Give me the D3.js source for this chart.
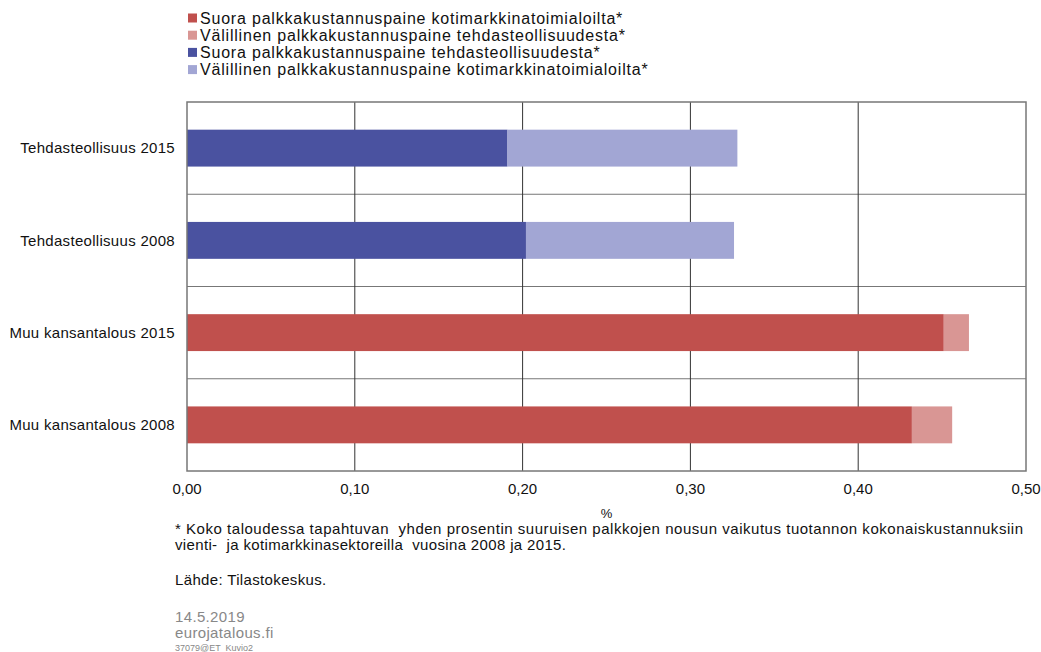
<!DOCTYPE html>
<html>
<head>
<meta charset="utf-8">
<script src="https://cdn.jsdelivr.net/npm/d3@7"></script>
<style>
  body { margin: 0; background: #fff; }
  svg { display: block; font-family: "Liberation Sans", Arial, sans-serif; }
</style>
</head>
<body>
<script>
// chart data
const categories = [
  "Tehdasteollisuus 2015",
  "Tehdasteollisuus 2008",
  "Muu kansantalous 2015",
  "Muu kansantalous 2008",
];
const seriesNames = [
  "Suora palkkakustannuspaine kotimarkkinatoimialoilta*",
  "Välillinen palkkakustannuspaine tehdasteollisuudesta*",
  "Suora palkkakustannuspaine tehdasteollisuudesta*",
  "Välillinen palkkakustannuspaine kotimarkkinatoimialoilta*",
];
// one array per series, aligned with categories
const suoraKoti = [0, 0, 0.451, 0.432];
const valillinenTehdas = [0, 0, 0.015, 0.024];
const suoraTehdas = [0.191, 0.202, 0, 0];
const valillinenKoti = [0.137, 0.124, 0, 0];
const xTicks = [0, 0.1, 0.2, 0.3, 0.4, 0.5];

const colors = ["#c0504d", "#d99694", "#4a52a0", "#a2a6d4"];

const width = 1041;
const height = 652;
const margin = { top: 102, right: 15, bottom: 181, left: 187 };

const svg = d3
  .select("body")
  .append("svg")
  .attr("width", width)
  .attr("height", height);

const x = d3
  .scaleLinear()
  .domain([0, 0.5])
  .range([margin.left, width - margin.right]);

const y = d3
  .scaleBand()
  .domain(categories)
  .range([margin.top, height - margin.bottom])
  .paddingInner(0)
  .paddingOuter(0);

const rows = categories.map((c, i) => ({
  cat: c,
  s0: suoraKoti[i],
  s1: valillinenTehdas[i],
  s2: suoraTehdas[i],
  s3: valillinenKoti[i],
}));
// order matters: dark segment first, light one after it
const stack = d3.stack().keys(["s2", "s3", "s0", "s1"]);
const stacked = stack(rows);
const keyColor = { s0: colors[0], s1: colors[1], s2: colors[2], s3: colors[3] };

// horizontal band separators
svg
  .append("g")
  .selectAll("line")
  .data(categories.slice(1))
  .join("line")
  .attr("x1", x(0))
  .attr("x2", x(0.5))
  .attr("y1", (d) => y(d))
  .attr("y2", (d) => y(d))
  .attr("stroke", "#777")
  .attr("stroke-width", 1);

// vertical gridlines
svg
  .append("g")
  .selectAll("line")
  .data(xTicks.slice(1, -1))
  .join("line")
  .attr("x1", (d) => x(d))
  .attr("x2", (d) => x(d))
  .attr("y1", y.range()[0])
  .attr("y2", y.range()[1])
  .attr("stroke", "#333")
  .attr("stroke-width", 1);

// bars
const barH = y.bandwidth() * 0.4;
svg
  .append("g")
  .selectAll("g")
  .data(stacked)
  .join("g")
  .attr("fill", (d) => keyColor[d.key])
  .selectAll("rect")
  .data((d) => d.filter((p) => p[1] - p[0] > 0))
  .join("rect")
  .attr("x", (d) => x(d[0]))
  .attr("width", (d) => x(d[1]) - x(d[0]))
  .attr("y", (d) => y(d.data.cat) + (y.bandwidth() - barH) / 2)
  .attr("height", barH);

// plot frame
svg
  .append("rect")
  .attr("x", x(0))
  .attr("y", y.range()[0])
  .attr("width", x(0.5) - x(0))
  .attr("height", y.range()[1] - y.range()[0])
  .attr("fill", "none")
  .attr("stroke", "#777")
  .attr("stroke-width", 1.5);

// category labels
svg
  .append("g")
  .selectAll("text")
  .data(categories)
  .join("text")
  .attr("x", 175)
  .attr("y", (d) => y(d) + y.bandwidth() / 2)
  .attr("dy", "0.35em")
  .attr("text-anchor", "end")
  .attr("font-size", "15px")
  .attr("letter-spacing", "0.3px")
  .attr("fill", "#111")
  .text((d) => d);

// x tick labels
const fmt = (v) => d3.format(".2f")(v).replace(".", ",");
svg
  .append("g")
  .selectAll("text")
  .data(xTicks)
  .join("text")
  .attr("x", (d) => x(d))
  .attr("y", 494)
  .attr("text-anchor", "middle")
  .attr("font-size", "15px")
  .attr("fill", "#111")
  .text((d) => fmt(d));

svg
  .append("text")
  .attr("x", x(0.25))
  .attr("y", 518)
  .attr("text-anchor", "middle")
  .attr("font-size", "13px")
  .attr("fill", "#111")
  .text("%");

// legend
const legend = svg
  .append("g")
  .selectAll("g")
  .data(seriesNames)
  .join("g")
  .attr("transform", (d, i) => `translate(188, ${18 + i * 17.2})`);

legend
  .append("rect")
  .attr("x", 0)
  .attr("y", -4.5)
  .attr("width", 9)
  .attr("height", 9)
  .attr("fill", (d, i) => colors[i]);

legend
  .append("text")
  .attr("x", 12)
  .attr("y", 5.5)
  .attr("font-size", "16px")
  .attr("letter-spacing", "0.8px")
  .attr("fill", "#111")
  .text((d) => d);

// footnotes
const notes = [
  { t: "* Koko taloudessa tapahtuvan  yhden prosentin suuruisen palkkojen nousun vaikutus tuotannon kokonaiskustannuksiin", y: 534, c: "#111", s: 15, fit: true },
  { t: "vienti-  ja kotimarkkinasektoreilla  vuosina 2008 ja 2015.", y: 550, c: "#111", s: 15 },
  { t: "Lähde: Tilastokeskus.", y: 585, c: "#111", s: 15 },
  { t: "14.5.2019", y: 622, c: "#888", s: 15 },
  { t: "eurojatalous.fi", y: 638, c: "#888", s: 15 },
  { t: "37079@ET  Kuvio2", y: 651, c: "#888", s: 9 },
];

svg
  .append("g")
  .selectAll("text")
  .data(notes)
  .join("text")
  .attr("x", 175)
  .attr("y", (d) => d.y)
  .attr("font-size", (d) => d.s + "px")
  .attr("fill", (d) => d.c)
  .attr("letter-spacing", (d) => (d.s > 10 && !d.fit ? "0.35px" : null))
  .attr("xml:space", "preserve")
  .style("white-space", "pre")
  .each(function (d) {
    if (d.fit) d3.select(this).attr("textLength", 848).attr("lengthAdjust", "spacing");
  })
  .text((d) => d.t);
</script>
</body>
</html>
